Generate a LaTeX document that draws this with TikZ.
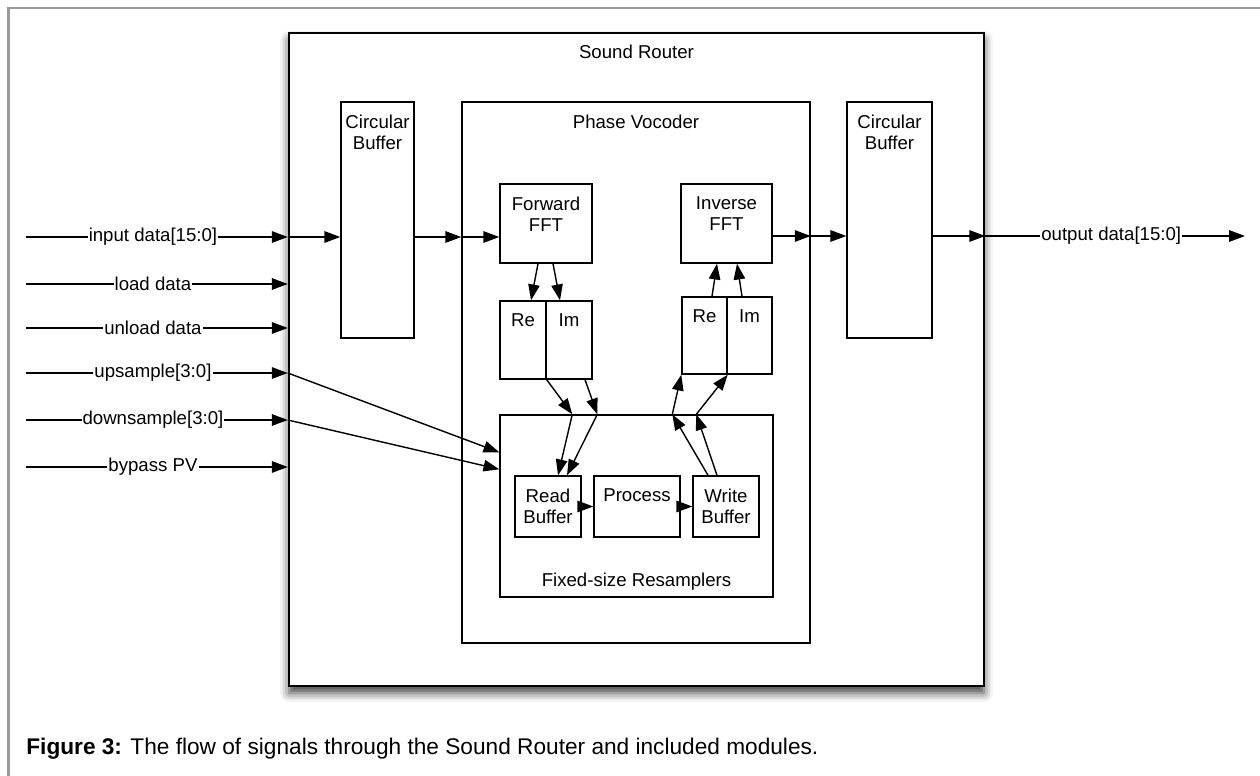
\documentclass[tikz,border=0pt]{standalone}
\usepackage{fontspec}
\setmainfont{Liberation Sans}
\usepackage{tikz}
\usetikzlibrary{positioning,fit,calc,arrows.meta,shadows.blur}

\begin{document}
\begin{tikzpicture}[
    x=0.02cm, y=-0.02cm,
    font=\fontsize{10.6}{12}\selectfont,
    box/.style={
        draw,
        rectangle,
        inner sep=0pt,
        fill=white,
        line width=0.8pt
    },
    ttl/.style={label={[align=center, anchor=north, inner sep=0pt, yshift=-7.5pt]north:#1}},
    sig/.style={-{Triangle[length=9pt,width=6.5pt]}, line width=0.8pt},
    lbl/.style={fill=white, inner sep=0.6pt}
]

% page frame
\useasboundingbox (0,0) rectangle (1260,776);
\draw[black!40, line width=1.3pt] (8.5,776) -- (8.5,7.8) -- (1260,7.8);

% sound router and its modules
\node[box, line width=1.4pt, fit={(289,33) (984,686)}, ttl={Sound Router},
      blur shadow={shadow xshift=0pt, shadow yshift=-4pt, shadow blur radius=5pt, shadow opacity=75}] (router) {};
\node[box, fit={(341,102) (414,338)}, ttl={Circular\\Buffer}] (lbuf) {};
\node[box, fit={(847,102) (932,338)}, ttl={Circular\\Buffer}] (rbuf) {};
\node[box, fit={(462,102) (810,643)}, ttl={Phase Vocoder}] (pv) {};

% phase vocoder
\node[box, fit={(500,184) (592,263)}, ttl={Forward\\FFT}] (fwd) {};
\node[box, fit={(681,184) (772,263)}, ttl={Inverse\\FFT}] (inv) {};
\node[box, fit={(500,301) (546,379)}, ttl={Re}] (fre) {};
\node[box, fit={(546,301) (592,379)}, ttl={Im}] (fim) {};
\node[box, fit={(682,297) (727,374)}, ttl={Re}] (ire) {};
\node[box, fit={(727,297) (772,374)}, ttl={Im}] (iim) {};

% resamplers
\node[box, fit={(500,415) (773,597)},
      label={[anchor=south, inner sep=0pt, yshift=4pt]south:Fixed-size Resamplers}] (resamp) {};
\node[box, fit={(515,476) (581,537)}, ttl={Read\\Buffer}] (rdbuf) {};
\node[box, fit={(594,476) (680,537)}, ttl={Process}] (proc) {};
\node[box, fit={(693,476) (759,537)}, ttl={Write\\Buffer}] (wrbuf) {};

\coordinate (p1) at ($(resamp.north west)+(73,0)$);
\coordinate (p2) at ($(resamp.north west)+(98,0)$);
\coordinate (p3) at ($(resamp.north west)+(173,0)$);
\coordinate (p4) at ($(resamp.north west)+(197,0)$);

% inputs
\foreach \yy/\txt [count=\i] in {237/input data[15:0], 284/load data, 328/unload data,
    373/upsample[3:0], 420/downsample[3:0], 467/bypass PV}{
    \coordinate (in\i) at (26,\yy);
    \draw[sig] (in\i) -- (in\i -| router.west) node[lbl, pos=.485] {\txt};
}

% data path
\draw[sig] (in1 -| router.west) -- (in1 -| lbuf.west);
\draw[sig] (in1 -| lbuf.east) -- (in1 -| pv.west);
\draw[sig] (in1 -| pv.west) -- (in1 -| fwd.west);

\draw[sig] ($(fwd.south)+(-8,0)$) -- ($(fre.north)+(8,0)$);
\draw[sig] ($(fwd.south)+(7,0)$) -- ($(fim.north)+(-9,0)$);

\draw[sig] (fre.south east) -- (p1);
\draw[sig] ($(fim.south)+(16,0)$) -- (p2);
\draw[sig] (p1) -- ($(rdbuf.north)+(10,0)$);
\draw[sig] (p2) -- ($(rdbuf.north)+(19,0)$);

\draw[sig] (in4 -| router.west) -- ($(resamp.north west)+(0,38)$);
\draw[sig] (in5 -| router.west) -- ($(resamp.north west)+(0,55)$);

\draw[sig] (rdbuf) -- (proc);
\draw[sig] (proc) -- (wrbuf);

\draw[sig] ($(wrbuf.north)+(-18,0)$) -- (p3);
\draw[sig] ($(wrbuf.north)+(-9,0)$) -- (p4);
\draw[sig] (p3) -- (ire.south west);
\draw[sig] (p4) -- (ire.south east);

\draw[sig] ($(ire.north)+(7.5,0)$) -- ($(inv.south)+(-9.5,0)$);
\draw[sig] ($(iim.north)+(-7.5,0)$) -- ($(inv.south)+(10.5,0)$);

% outputs
\coordinate (out) at (1245,236);
\draw[sig] (out -| inv.east) -- (out -| pv.east);
\draw[sig] (out -| pv.east) -- (out -| rbuf.west);
\draw[sig] (out -| rbuf.east) -- (out -| router.east);
\draw[sig] (out -| router.east) -- (out) node[lbl, pos=.485] {output data[15:0]};

% caption
\node[anchor=west, inner sep=0pt, font=\fontsize{12.9}{15}\selectfont] (caption) at (26,749)
    {\textbf{Figure 3:} The flow of signals through the Sound Router and included modules.};

\end{tikzpicture}
\end{document}
